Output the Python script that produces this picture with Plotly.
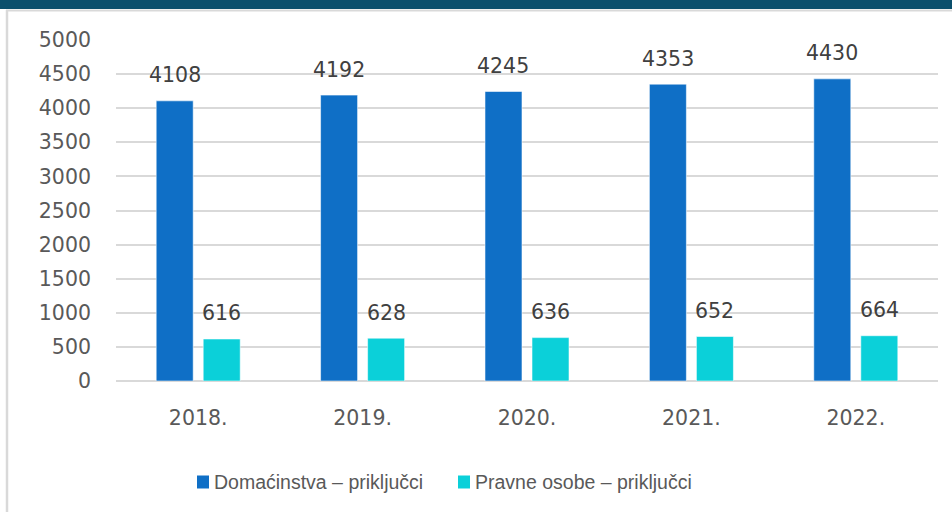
import plotly.graph_objects as go

years = ["2018.", "2019.", "2020.", "2021.", "2022."]
domacinstva = [4108, 4192, 4245, 4353, 4430]
pravne = [616, 628, 636, 652, 664]
series_names = ["Domaćinstva – priključci", "Pravne osobe – priključci"]
colors = ["#0F6FC6", "#0BD0D9"]
y_ticks = [0, 500, 1000, 1500, 2000, 2500, 3000, 3500, 4000, 4500, 5000]

W, H = 952, 512
L, R, T, B = 116, 14, 40, 131
pw, ph = W - L - R, H - T - B

def px_x(p):
    return (p - L) / pw

def px_y(p):
    return (H - B - p) / ph

num_font = dict(family="DejaVu Sans", size=20.5, color="#595959")
lab_font = dict(family="DejaVu Sans", size=20.5, color="#404040")
leg_font = dict(family="Liberation Sans", size=19.5, color="#595959")

xpos = list(range(len(years)))

fig = go.Figure()
for name, vals, col in zip(series_names, [domacinstva, pravne], colors):
    fig.add_trace(go.Bar(
        x=xpos, y=vals, name=name, showlegend=False,
        marker=dict(color=col, line=dict(color="rgba(255,255,255,0.55)", width=1)),
    ))

slot = pw / len(years) * (1 - 0.428) / 2
for i, vals in enumerate([domacinstva, pravne]):
    shift = (i - 0.5) * slot
    for x, v in zip(xpos, vals):
        fig.add_annotation(x=x, y=v, text=str(v), showarrow=False,
                           xshift=shift, yshift=25.5, yanchor="middle",
                           font=lab_font)

shapes = [
    dict(type="rect", xref="paper", yref="paper", x0=px_x(0), x1=px_x(W),
         y0=px_y(9), y1=px_y(0), fillcolor="#0B4F6C", line=dict(width=0), layer="above"),
    dict(type="line", xref="paper", yref="paper", x0=px_x(6), x1=px_x(W),
         y0=px_y(10.5), y1=px_y(10.5), line=dict(color="#D9D9D9", width=2)),
    dict(type="line", xref="paper", yref="paper", x0=px_x(7), x1=px_x(7),
         y0=px_y(H), y1=px_y(10), line=dict(color="#D9D9D9", width=2.5)),
]

# legend (drawn as key squares + text)
legend_x = [197, 458]
for lx, name, col in zip(legend_x, series_names, colors):
    shapes.append(dict(type="rect", xref="paper", yref="paper",
                       x0=px_x(lx), x1=px_x(lx + 12), y0=px_y(488.5), y1=px_y(475.5),
                       fillcolor=col, line=dict(width=0)))
    fig.add_annotation(xref="paper", yref="paper", x=px_x(lx + 15), y=px_y(482),
                       xanchor="left", yanchor="middle", text=name, showarrow=False,
                       font=leg_font)

fig.update_layout(
    width=W, height=H,
    margin=dict(l=L, r=R, t=T, b=B, autoexpand=False),
    paper_bgcolor="white", plot_bgcolor="white",
    barmode="group", bargap=0.428, bargroupgap=0.213,
    showlegend=False,
    shapes=shapes,
    xaxis=dict(range=[-0.5, len(years) - 0.5], tickvals=xpos, ticktext=years,
               showgrid=False, showline=False, zeroline=False, ticks="", tickfont=num_font,
               ticklabelstandoff=22),
    yaxis=dict(range=[0, 5000], tickvals=y_ticks, ticktext=[str(t) for t in y_ticks],
               showgrid=True, gridcolor="#D9D9D9", gridwidth=1.5,
               zeroline=True, zerolinecolor="#D9D9D9", zerolinewidth=2,
               showline=False, ticks="", tickfont=num_font, ticklabelstandoff=24),
)

fig.write_html("out.html", config={"displayModeBar": False},
               post_script="document.body.style.margin='0';")
